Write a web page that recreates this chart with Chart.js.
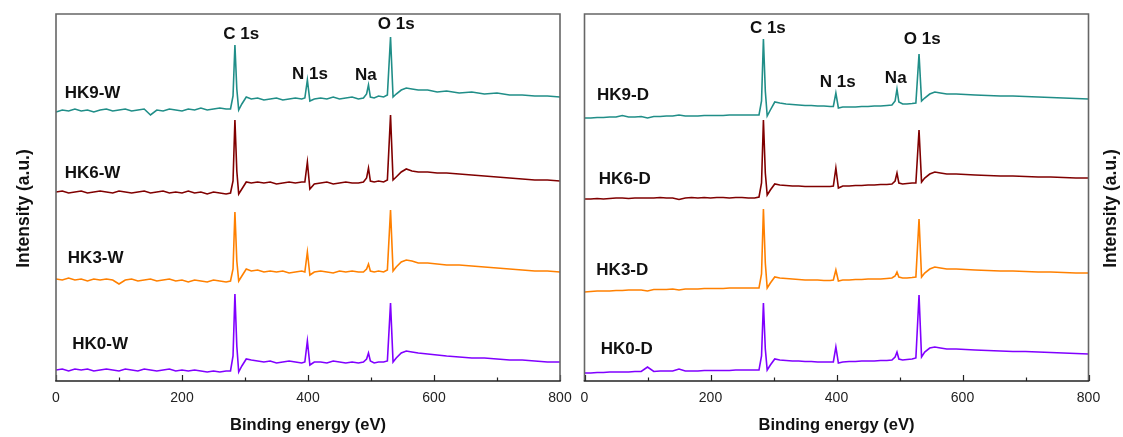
<!DOCTYPE html>
<html>
<head>
<meta charset="utf-8">
<script src="https://cdn.jsdelivr.net/npm/chart.js@4.4.1/dist/chart.umd.min.js"></script>
<style>
  html, body { margin: 0; padding: 0; background: #fff; }
  #wrap { position: relative; width: 1123px; height: 437px; overflow: hidden; }
  #wrap canvas { position: absolute; top: 0; }
  #left-chart  { left: 0; }
  #right-chart { left: 575px; }
</style>
</head>
<body>
<div id="wrap">
  <canvas id="left-chart" width="575" height="437"></canvas>
  <canvas id="right-chart" width="548" height="437"></canvas>
</div>
<script>
/* ─── Data (binding energy in eV, intensity in a.u. incl. stacking offset) ── */

const ENERGY = [
  0, 10, 20, 30, 40, 50, 60, 70, 80, 90, 100, 110, 120, 130, 140, 150, 160, 170, 180, 190, 200, 210, 220, 230, 240, 250, 260, 270,
  277, 281, 284, 287, 290, 295, 302, 310,
  320, 330, 340, 350, 360, 370, 380, 390,
  395, 399, 403, 410,
  420, 430, 440, 450, 460, 470, 480,
  488, 493, 496, 499, 505, 512, 520, 526, 531, 535, 540, 548, 556, 565, 575,
  590, 605, 620, 640, 660, 680, 700, 720, 740, 760, 780, 800
];

const X_TICKS_MAJOR = [0, 200, 400, 600, 800];
const X_TICKS_MINOR = [100, 300, 500, 700];

const PEAK_NAMES = ['C 1s', 'N 1s', 'Na', 'O 1s'];
const SAMPLES_W  = ['HK9-W', 'HK6-W', 'HK3-W', 'HK0-W'];
const SAMPLES_D  = ['HK9-D', 'HK6-D', 'HK3-D', 'HK0-D'];

// washed (W) samples – left panel
const HK9_W = [
  269, 271, 270, 272, 270, 271, 269, 271, 272, 270, 271, 272, 270, 271, 272, 266, 271, 270, 272, 271, 270, 272, 271, 273, 271, 272, 273, 272,
  272, 285, 336, 292, 271, 277, 284, 282,
  283, 281, 282, 283, 281, 282, 283, 282,
  283, 301, 280, 282,
  283, 282, 284, 282, 283, 284, 282,
  283, 287, 296, 284, 283, 285, 284, 286, 344, 284, 287, 291, 293, 292, 291,
  291, 289, 290, 288, 289, 287, 288, 286, 286, 285, 285, 284
];
const HK6_W = [
  189, 190, 188, 189, 190, 188, 189, 190, 189, 188, 190, 189, 188, 189, 190, 188, 189, 190, 188, 189, 188, 190, 188, 189, 187, 189, 188, 187,
  188, 200, 261, 210, 187, 192, 199, 198,
  199, 198, 199, 197, 198, 199, 198, 199,
  199, 219, 192, 197,
  198, 199, 197, 198, 199, 198, 198,
  199, 203, 213, 200, 199, 200, 199, 201, 266, 201, 204, 209, 212, 210, 209,
  209, 208, 208, 207, 206, 205, 204, 203, 202, 201, 201, 200
];
const HK3_W = [
  102, 101, 103, 101, 102, 100, 102, 101, 102, 101, 97, 101, 102, 100, 101, 102, 100, 101, 102, 100, 101, 99, 101, 100, 99, 101, 100, 99,
  100, 112, 169, 120, 100, 105, 112, 110,
  111, 109, 110, 109, 110, 108, 109, 110,
  109, 129, 106, 109,
  110, 109, 108, 110, 109, 110, 109,
  109, 112, 117, 110, 109, 110, 109, 111, 171, 110, 114, 119, 121, 120, 118,
  118, 117, 116, 116, 115, 114, 113, 112, 111, 110, 110, 109
];
const HK0_W = [
  11, 12, 10, 12, 11, 12, 10, 11, 12, 11, 10, 12, 11, 10, 12, 11, 10, 11, 12, 10, 11, 10, 11, 10, 9, 10, 9, 10,
  10, 25, 87, 35, 9, 15, 22, 21,
  20, 19, 20, 18, 19, 20, 19, 18,
  19, 40, 16, 19,
  19, 18, 20, 19, 18, 19, 18,
  19, 22, 28, 20, 18, 19, 19, 20, 78, 19, 23, 28, 30, 29, 28,
  27, 26, 25, 24, 23, 23, 22, 21, 21, 20, 19, 19
];

// dried (D) samples – right panel
const HK9_D = [
  263, 263, 263.5, 263.5, 264, 264, 265.5, 264, 264, 264.5, 263, 264.5, 264.5, 265, 265, 266, 265, 265, 265, 265.5, 265.5, 265.5, 265.5, 266, 266, 266, 266, 266,
  266, 280, 342, 290, 265, 271, 279, 278,
  277, 276.5, 276, 275.5, 275.5, 275, 275, 274.5,
  274.5, 288, 273, 274,
  274, 274, 274.5, 274.5, 275, 275, 275.5,
  276, 280, 292, 279, 277, 277, 277.5, 278, 327, 280, 283, 287, 289, 288, 287,
  287, 286.5, 286, 285.5, 285, 285, 284.5, 284, 283.5, 283, 282.5, 282
];
const HK6_D = [
  182, 182, 182.5, 182, 182.5, 183, 183, 182.5, 183, 183, 183, 183, 183.5, 183, 183, 181.5, 183, 183.5, 183, 183.5, 183, 183.5, 183.5, 183, 183.5, 183.5, 183, 183,
  184, 198, 261, 208, 186, 191, 197, 196,
  195.5, 195, 195, 194.5, 194.5, 194.5, 194.5, 194.5,
  195, 213, 193, 195,
  195, 195.5, 195.5, 196, 196, 196.5, 196.5,
  197, 200, 208, 198, 197, 197.5, 198, 198, 251, 199, 203, 207, 209, 208, 207,
  207, 206.5, 206, 205.5, 205, 205, 204.5, 204, 204, 203.5, 203, 203
];
const HK3_D = [
  89, 89.5, 90, 90, 90, 90.5, 90.5, 91, 91, 91, 90, 91.5, 91.5, 91.5, 92, 91, 92, 92, 92, 92.5, 92.5, 92.5, 92.5, 93, 93, 93, 93, 93,
  93, 107, 172, 118, 93, 98, 104, 103,
  102.5, 102, 101.5, 101, 101, 101, 100.5, 100.5,
  101, 111, 100, 101,
  101, 101.5, 101.5, 102, 102, 102, 102.5,
  103, 105, 109, 104, 103, 103, 103.5, 104, 162, 104, 108, 112, 114, 113, 112,
  112, 111.5, 111, 110.5, 110, 110, 109.5, 109, 109, 108.5, 108, 108
];
const HK0_D = [
  8, 8, 8.5, 8.5, 9, 9, 9, 9, 9.5, 9.5, 14, 9.5, 10, 10, 10, 12, 10, 10, 10, 10.5, 10.5, 10.5, 10.5, 10.5, 11, 11, 11, 11,
  11, 25, 78, 32, 11, 16, 22, 21,
  20.5, 20, 20, 19.5, 19.5, 19, 19, 19,
  19, 34, 18, 19,
  19.5, 19.5, 20, 20, 20, 20.5, 20.5,
  21, 24, 29, 22, 21, 21.5, 22, 23, 86, 24, 29, 33, 34, 33, 32,
  32, 31.5, 31, 30.5, 30, 29.5, 29.5, 29, 28.5, 28, 27.5, 27
];

/* ─── Styles ─────────────────────────────────────────────────────────────── */

const COLORS = ['#208e88', '#800000', '#ff8000', '#8000ff'];
const FONT   = '"Liberation Sans", Arial, sans-serif';

// label anchors, in data units (eV, a.u.)
const PEAK_POS_W   = [[294, 347], [403, 307], [492, 306], [540, 357]];
const PEAK_POS_D   = [[291, 353], [402, 299], [494, 303], [536, 341.5]];
const SAMPLE_POS_W = [[58, 287.5], [58, 208], [63, 123], [70, 37]];
const SAMPLE_POS_D = [[61, 286], [64, 202], [60, 111], [67, 31.5]];

/* ─── Decoration plugin: frame, inner ticks, labels, titles ──────────────── */

const spectraDecor = {
  id: 'spectraDecor',
  afterDatasetsDraw(chart, args, opts) {
    const { ctx, chartArea: a, scales: { x, y } } = chart;
    ctx.save();

    // inward ticks on the bottom axis
    ctx.strokeStyle = '#222';
    ctx.lineWidth = 1.2;
    ctx.beginPath();
    X_TICKS_MAJOR.forEach(v => {
      const px = Math.round(x.getPixelForValue(v)) + 0.5;
      ctx.moveTo(px, a.bottom); ctx.lineTo(px, a.bottom - 6);
    });
    X_TICKS_MINOR.forEach(v => {
      const px = Math.round(x.getPixelForValue(v)) + 0.5;
      ctx.moveTo(px, a.bottom); ctx.lineTo(px, a.bottom - 3.5);
    });
    ctx.stroke();

    // frame
    ctx.lineWidth = 1.6;
    ctx.strokeStyle = '#666';
    ctx.beginPath();
    ctx.moveTo(a.left, a.bottom); ctx.lineTo(a.left, a.top);
    ctx.lineTo(a.right, a.top); ctx.lineTo(a.right, a.bottom);
    ctx.stroke();
    ctx.strokeStyle = '#222';
    ctx.beginPath();
    ctx.moveTo(a.left - 0.8, a.bottom); ctx.lineTo(a.right + 0.8, a.bottom);
    ctx.stroke();

    // peak and sample labels
    ctx.fillStyle = '#111';
    ctx.textAlign = 'center';
    ctx.textBaseline = 'middle';
    ctx.font = 'bold 17px ' + FONT;
    opts.labels.forEach(([text, ex, ey]) => {
      ctx.fillText(text, x.getPixelForValue(ex), y.getPixelForValue(ey));
    });

    // axis titles
    ctx.font = 'bold 16.5px ' + FONT;
    ctx.fillText('Binding energy (eV)', (a.left + a.right) / 2, a.bottom + 44);
    ctx.font = 'bold 17.5px ' + FONT;
    ctx.translate(opts.yTitleX, (a.top + a.bottom) / 2 + 11);
    ctx.rotate(-Math.PI / 2);
    ctx.fillText('Intensity (a.u.)', 0, 0);

    ctx.restore();
  }
};

/* ─── Chart builder ──────────────────────────────────────────────────────── */

function makePanel(canvasId, series, names, peakPos, samplePos, padding, yTitleX) {
  const labels = [
    ...PEAK_NAMES.map((t, i) => [t, peakPos[i][0], peakPos[i][1]]),
    ...names.map((t, i) => [t, samplePos[i][0], samplePos[i][1]]),
  ];

  return new Chart(document.getElementById(canvasId), {
    type: 'scatter',
    data: {
      datasets: series.map((vals, i) => ({
        label: names[i],
        data: ENERGY.map((e, k) => ({ x: e, y: vals[k] })),
        showLine: true,
        borderColor: COLORS[i],
        backgroundColor: COLORS[i],
        borderWidth: 1.6,
        pointRadius: 0,
        tension: 0,
      })),
    },
    options: {
      responsive: false,
      animation: false,
      layout: { padding },
      plugins: {
        legend: { display: false },
        tooltip: { enabled: false },
        spectraDecor: { labels, yTitleX },
      },
      scales: {
        x: {
          type: 'linear',
          min: 0,
          max: 800,
          afterFit: s => { s.height = 56; s.paddingLeft = 0; s.paddingRight = 0; },
          afterBuildTicks: s => { s.ticks = X_TICKS_MAJOR.map(v => ({ value: v })); },
          ticks: {
            autoSkip: false,
            maxRotation: 0,
            padding: 9,
            color: '#222',
            font: { family: FONT, size: 14 },
          },
          grid: { display: true, drawOnChartArea: false, drawTicks: false, color: 'rgba(0,0,0,0)' },
          border: { display: false },
        },
        y: { display: false, min: 0, max: 367 },
      },
    },
    plugins: [spectraDecor],
  });
}

makePanel('left-chart', [HK9_W, HK6_W, HK3_W, HK0_W], SAMPLES_W, PEAK_POS_W, SAMPLE_POS_W,
  { left: 56, top: 14, right: 15, bottom: 0 }, 24);

makePanel('right-chart', [HK9_D, HK6_D, HK3_D, HK0_D], SAMPLES_D, PEAK_POS_D, SAMPLE_POS_D,
  { left: 9.5, top: 14, right: 34.5, bottom: 0 }, 536);
</script>
</body>
</html>
